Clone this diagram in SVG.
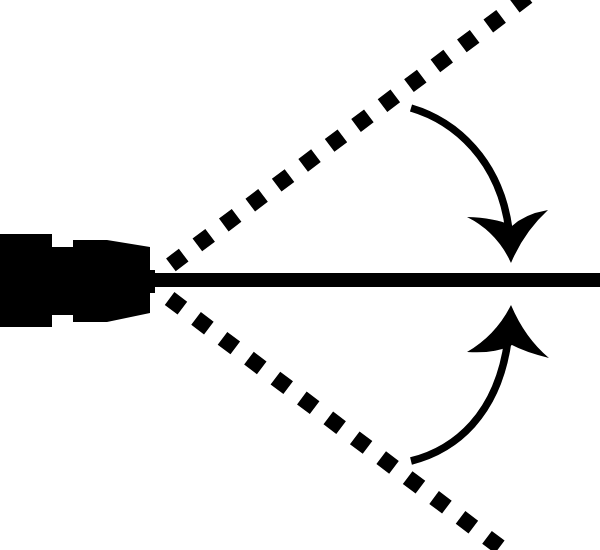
<svg xmlns="http://www.w3.org/2000/svg" width="600" height="550" viewBox="0 0 600 550">
<style>.d{fill:none;stroke:#000;stroke-width:16;stroke-dasharray:16 17.100}.a{fill:none;stroke:#000;stroke-width:7.500}.h{fill:#000}</style>
<rect width="600" height="550" fill="#fff"/>
<g id="device"><path class="h" d="M0 234H52V247H73V240H107L150 247V270L155 270V293L150 293V313L107 322H73V315H52V327H0Z"/></g>
<g id="connectors">
<path d="M150 280H600" fill="none" stroke="#000" stroke-width="14"/>
<path class="d" d="M170.900 264.800L538.400 -11.700"/>
<path class="d" d="M169.600 298.500L537.100 575"/>
<path class="a" d="M411 108C455 121 500 160 509 230"/>
<path class="h" d="M467 217Q497 218 512 226Q525 214 548 210Q524 232 511 263Q497 232 467 217Z"/>
<path class="a" d="M411 461C455 450 498 415 508 340"/>
<path class="h" d="M511 305Q525 338 549 358Q525 352 512 345Q495 354 467 352Q496 335 511 305Z"/>
</g>
</svg>
